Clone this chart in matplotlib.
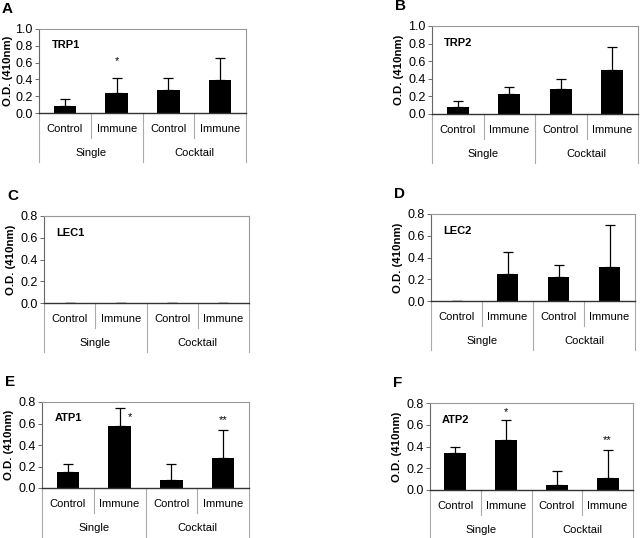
import matplotlib
matplotlib.use('Agg')
import matplotlib.pyplot as plt

plt.rcParams['font.family'] = ['Liberation Sans', 'DejaVu Sans']

conditions = ['Control', 'Immune', 'Control', 'Immune']
groups = ['Single', 'Cocktail']

names = ['TRP1', 'TRP2', 'LEC1', 'LEC2', 'ATP1', 'ATP2']
letters = ['A', 'B', 'C', 'D', 'E', 'F']

trp1 = [0.087, 0.234, 0.278, 0.397]
trp1_err = [0.08, 0.179, 0.135, 0.262]
trp2 = [0.083, 0.226, 0.282, 0.504]
trp2_err = [0.06, 0.086, 0.12, 0.259]
lec1 = [0.003, 0.003, 0.003, 0.003]
lec1_err = [0.0, 0.0, 0.0, 0.0]
lec2 = [0.003, 0.244, 0.22, 0.315]
lec2_err = [0.0, 0.21, 0.114, 0.385]
atp1 = [0.149, 0.574, 0.078, 0.28]
atp1_err = [0.071, 0.173, 0.142, 0.26]
atp2 = [0.336, 0.464, 0.043, 0.107]
atp2_err = [0.064, 0.183, 0.131, 0.259]

values = [trp1, trp2, lec1, lec2, atp1, atp2]
errors = [trp1_err, trp2_err, lec1_err, lec2_err, atp1_err, atp2_err]
ymax = [1.0, 1.0, 0.8, 0.8, 0.8, 0.8]

# significance marks: (bar index, x shift, y, text)
stars = [
    [(1, 0.0, 0.62, '*')],
    [],
    [],
    [],
    [(1, 0.2, 0.66, '*'), (3, 0.0, 0.63, '**')],
    [(1, 0.0, 0.72, '*'), (3, 0.0, 0.46, '**')],
]

# axes boxes in pixels: x0, y0(top), x1, y1(bottom)
boxes = [
    (39, 29, 246, 113),
    (432, 26, 638, 114),
    (44, 216, 249, 303),
    (431, 214, 635, 301),
    (42, 402, 249, 488),
    (430, 403, 633, 490),
]

W, H = 640, 538
fig = plt.figure(figsize=(6.4, 5.38), dpi=100)

for i in range(6):
    x0, y0, x1, y1 = boxes[i]
    w = x1 - x0
    h = y1 - y0
    ax = fig.add_axes([x0 / W, 1 - y1 / H, w / W, h / H])
    xs = range(4)
    ax.bar(xs, values[i], width=0.43, color='black')
    ax.errorbar(xs, values[i], yerr=[[0] * 4, errors[i]], fmt='none',
                ecolor='black', elinewidth=0.9, capsize=3.5, capthick=0.9)
    for j, dx, y, t in stars[i]:
        ax.text(j + dx, y, t, ha='center', va='center', fontsize=8)
    ax.set_xlim(-0.5, 3.5)
    ax.set_ylim(0, ymax[i])
    n = int(round(ymax[i] / 0.2))
    ax.set_yticks([k * 0.2 for k in range(n + 1)])
    ax.set_yticklabels(['%.1f' % (k * 0.2) for k in range(n + 1)])
    ax.set_xticks([])
    ax.tick_params(axis='y', labelsize=9, length=3, width=0.6,
                   color='#555555', pad=1.5)
    for s in ['top', 'right']:
        ax.spines[s].set_color('#999999')
        ax.spines[s].set_linewidth(0.8)
    ax.spines['left'].set_color('#666666')
    ax.spines['left'].set_linewidth(0.8)
    ax.spines['bottom'].set_color('#333333')
    ax.spines['bottom'].set_linewidth(1.0)

    ax.text(0.06, 0.81, names[i], transform=ax.transAxes, fontsize=8,
            fontweight='bold', va='center', ha='left')
    ax.set_ylabel('O.D. (410nm)', fontsize=8.2, fontweight='bold')
    # label anchor is its right edge
    ax.yaxis.set_label_coords(-min(28.0, x0 - 13.0) / w, 0.5)

    # category axis drawn below
    r1 = 25.0 / h
    r2 = 49.0 / h
    tr = ax.get_xaxis_transform()
    for xb, depth in [(-0.5, r2), (0.5, r1), (1.5, r2), (2.5, r1), (3.5, r2)]:
        ax.plot([xb, xb], [0, -depth], transform=tr, clip_on=False,
                color='#aaaaaa', lw=0.8)
    for k, c in enumerate(conditions):
        ax.text(k, -16.0 / h, c, transform=tr, ha='center', va='center',
                fontsize=8)
    for k, g in enumerate(groups):
        ax.text(0.5 + 2 * k, -40.0 / h, g, transform=tr, ha='center',
                va='center', fontsize=8)

    fig.text((x0 - 37) / W, 1 - (y0 - 20) / H, letters[i], fontsize=11,
             fontweight='bold', ha='left', va='center')

fig.savefig('out.png', dpi=100)
